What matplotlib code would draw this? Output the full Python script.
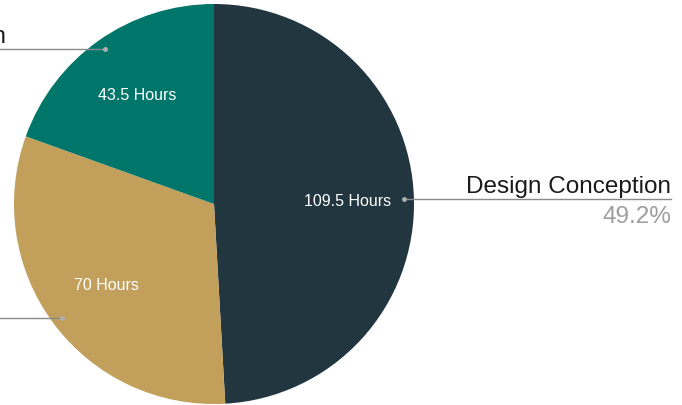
import matplotlib
matplotlib.use("Agg")
import matplotlib.pyplot as plt
import numpy as np

categories = ["Design Conception", "Prototyping", "Documentation"]
hours = [109.5, 70, 43.5]
inner_labels = ["109.5 Hours", "70 Hours", "43.5 Hours"]
pct_labels = ["49.2%", "31.4%", "19.5%"]
colors = ["#22363F", "#C29F5B", "#00766A"]

plt.rcParams['font.family'] = ['Liberation Sans', 'DejaVu Sans']

W, H = 682, 406
fig = plt.figure(figsize=(W / 100, H / 100), dpi=100)
cx, cy, R = 214, 205, 200
ax = fig.add_axes([(cx - R) / W, (H - cy - R) / H, 2 * R / W, 2 * R / H])

wedges, texts = ax.pie(hours, colors=colors, startangle=90, counterclock=False,
                       radius=1, wedgeprops=dict(linewidth=0),
                       labels=inner_labels, labeldistance=0.67,
                       textprops=dict(color='white', fontsize=11.5))
ax.set_xlim(-1, 1)
ax.set_ylim(-1, 1)
ax.set_aspect('equal')
ax.axis('off')
for t in texts:
    t.set_ha('center')
    t.set_va('center')

line_color = "#8a8a8a"
right_end = (671 - cx) / R
left_end = (-30 - cx) / R
# right edge of left-side labels (in pixels); they run off the cropped canvas
left_text_px = [None, -4, 6]
left_pct_px = [None, -4, -4]
fs = 17.5
for i, w in enumerate(wedges):
    mid = np.deg2rad((w.theta1 + w.theta2) / 2)
    dx, dy = 0.95 * np.cos(mid), 0.95 * np.sin(mid)
    ax.plot([dx], [dy], 'o', ms=2.5, color="#b0b0b0", clip_on=False, zorder=5)
    if np.cos(mid) > 0:
        xe = right_end
        ax.plot([dx, xe], [dy, dy], color=line_color, lw=1, clip_on=False, zorder=4)
        ax.text(xe, dy + 0.035, categories[i], ha='right', va='baseline',
                fontsize=fs, color='#1a1a1a', clip_on=False)
        ax.text(xe, dy - 0.03, pct_labels[i], ha='right', va='top',
                fontsize=fs, color='#9e9e9e', clip_on=False)
    else:
        xe = left_end
        ax.plot([dx, xe], [dy, dy], color=line_color, lw=1, clip_on=False, zorder=4)
        ax.text((left_text_px[i] - cx) / R, dy + 0.035, categories[i], ha='right',
                va='baseline', fontsize=fs, color='#1a1a1a', clip_on=False)
        ax.text((left_pct_px[i] - cx) / R, dy - 0.03, pct_labels[i], ha='right',
                va='top', fontsize=fs, color='#9e9e9e', clip_on=False)

fig.savefig("out.png", dpi=100)
